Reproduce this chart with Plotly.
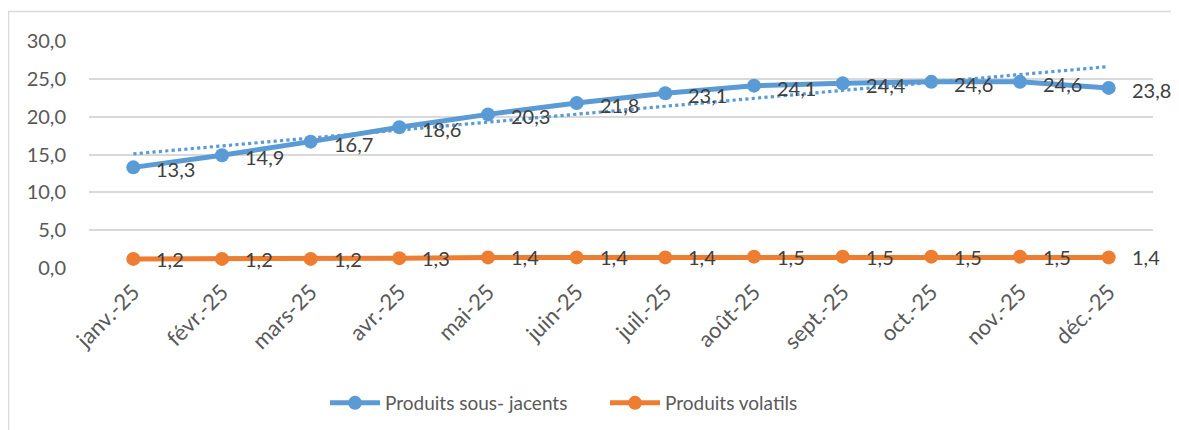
import plotly.graph_objects as go

months = ["janv.-25", "févr.-25", "mars-25", "avr.-25", "mai-25", "juin-25",
          "juil.-25", "août-25", "sept.-25", "oct.-25", "nov.-25", "déc.-25"]
sous_jacents = [13.3, 14.9, 16.7, 18.6, 20.3, 21.8, 23.1, 24.1, 24.4, 24.6, 24.6, 23.8]
volatils = [1.2, 1.2, 1.2, 1.3, 1.4, 1.4, 1.4, 1.5, 1.5, 1.5, 1.5, 1.4]

BLUE = "#5B9BD5"
ORANGE = "#ED7D31"
FONT = "Lato"

# linear trendline (least squares) of the blue series
n = len(sous_jacents)
xs = list(range(n))
mx = sum(xs) / n
my = sum(sous_jacents) / n
slope = sum((x - mx) * (y - my) for x, y in zip(xs, sous_jacents)) / sum((x - mx) ** 2 for x in xs)
trend = [my + slope * (x - mx) for x in xs]

fig = go.Figure()
fig.add_trace(go.Scatter(x=months, y=trend, mode="lines", showlegend=False,
                         line=dict(color=BLUE, width=3.2, dash="dot"), hoverinfo="skip"))
fig.add_trace(go.Scatter(x=months, y=sous_jacents, mode="lines+markers", name="Produits sous- jacents",
                         line=dict(color=BLUE, width=5), marker=dict(size=14, color=BLUE)))
fig.add_trace(go.Scatter(x=months, y=volatils, mode="lines+markers", name="Produits volatils",
                         line=dict(color=ORANGE, width=5), marker=dict(size=14, color=ORANGE)))

annotations = []
for series, ys in ((sous_jacents, -2), (volatils, 0)):
    for m, v in zip(months, series):
        annotations.append(dict(x=m, y=v, xref="x", yref="y", text=f"{v:.1f}".replace(".", ","),
                                showarrow=False, xanchor="left", yanchor="middle", xshift=21, yshift=ys,
                                font=dict(family=FONT, size=20, color="#404040")))

# page coordinates of the plot area (the page body has an 8px margin)
OFF = 8
L, R, T, B = 89, 1153, 41, 268
W, H = R - L, B - T

def px(x):
    return (x - L) / W

def py(y):
    return (B - y) / H

fig.update_layout(
    width=1179, height=430,
    margin=dict(l=L - OFF, r=1179 - (R - OFF), t=T - OFF, b=430 - (B - OFF), autoexpand=False),
    paper_bgcolor="white", plot_bgcolor="white",
    separators=", ",
    font=dict(family=FONT, size=20, color="#595959"),
    annotations=annotations,
    showlegend=True,
    legend=dict(orientation="h", x=px(325), xanchor="left", y=py(403), yanchor="middle",
                font=dict(family=FONT, size=19, color="#595959"), itemwidth=50,
                entrywidth=215, bgcolor="rgba(0,0,0,0)"),
    shapes=[dict(type="rect", xref="paper", yref="paper", x0=px(8.5), x1=px(1400), y0=py(600), y1=py(11.5),
                 line=dict(color="#D9D9D9", width=1.5), fillcolor="rgba(0,0,0,0)", layer="below")],
)
fig.update_xaxes(type="category", range=[-0.5, 11.5], tickangle=-45, showgrid=False,
                 showline=False, ticks="", ticklabelstandoff=6,
                 tickfont=dict(family=FONT, size=22, color="#595959"))
fig.update_yaxes(range=[0, 30], dtick=5, tickformat=".1f", showgrid=True, gridcolor="#D9D9D9",
                 gridwidth=1.5, zeroline=False, showline=False, ticks="", ticklabelstandoff=22,
                 tickfont=dict(family=FONT, size=20, color="#595959"))

fig.write_html("out.html")
